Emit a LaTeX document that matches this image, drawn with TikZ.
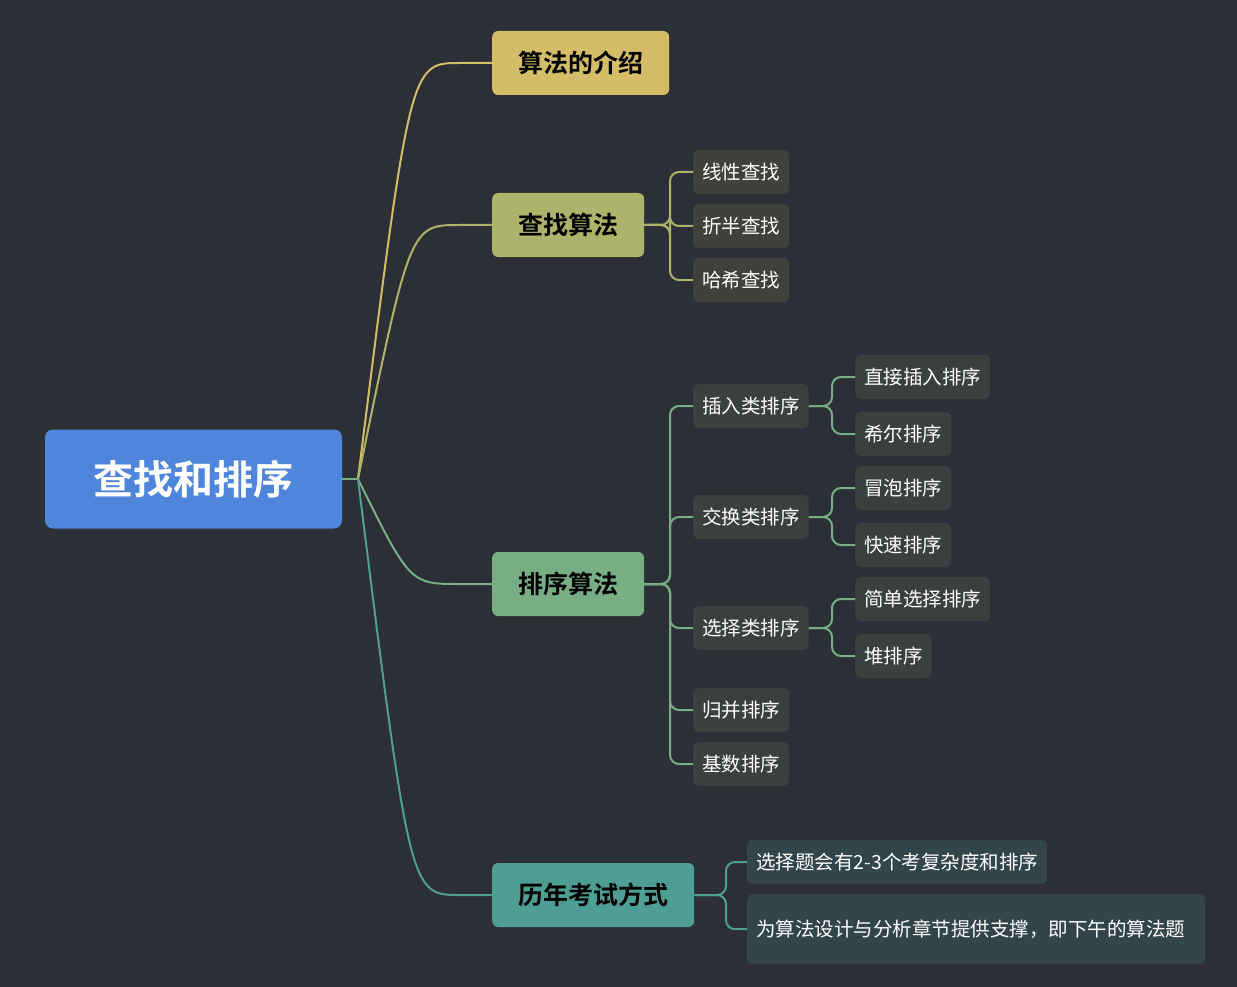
\documentclass[tikz,border=0pt]{standalone}
\usepackage{fontspec}
\setmainfont{Noto Sans CJK SC}
\newfontfamily\cjkb{Noto Sans CJK SC Bold}
\begin{document}
\begin{tikzpicture}[x=1pt,y=-1pt,
 l1/.style={rounded corners=6pt,anchor=west,minimum height=64pt,inner xsep=26pt,text=black,font=\cjkb\fontsize{25}{30}\selectfont},
 l2/.style={rounded corners=6pt,anchor=west,minimum height=44pt,inner xsep=9pt,fill=boxd,text=white,font=\fontsize{19.5}{24}\selectfont},
 cn/.style={line width=2pt,rounded corners=9pt}]
\definecolor{bg}{HTML}{2C2F36}
\definecolor{rootc}{HTML}{4F86DB}
\definecolor{c1}{HTML}{D4BC68}
\definecolor{c2}{HTML}{ADB36A}
\definecolor{c3}{HTML}{78AE84}
\definecolor{c4}{HTML}{4F9E94}
\definecolor{boxd}{HTML}{3B403E}
\definecolor{boxs}{HTML}{3E423A}
\definecolor{boxt}{HTML}{33454A}
\fill[bg] (0,0) rectangle (1237,987);
\useasboundingbox (0,0) rectangle (1237,987);
\node[fill=rootc,rounded corners=8pt,minimum width=297pt,minimum height=99pt,text=white,font=\cjkb\fontsize{40}{48}\selectfont] (root) at (193.5,479) {查找和排序};
\coordinate (r) at (358,479);
\node[l1,fill=c1] (a) at (492,63) {算法的介绍};
\node[l1,fill=c2] (b) at (492,225) {查找算法};
\node[l1,fill=c3] (c) at (492,584) {排序算法};
\node[l1,fill=c4] (d) at (492,895) {历年考试方式};
\draw[c3,line width=2pt] (root.east) -- (r);
\draw[c1,line width=2pt] (r) .. controls (410,63) .. (460,63) -- (a.west);
\draw[c2,line width=2pt] (r) .. controls (410,225) .. (460,225) -- (b.west);
\draw[c3,line width=2pt] (r) .. controls (410,584) .. (460,584) -- (c.west);
\draw[c4,line width=2pt] (r) .. controls (410,895) .. (460,895) -- (d.west);
% level 2
\node[l2,fill=boxs] (b1) at (693,172) {线性查找};
\node[l2,fill=boxs] (b2) at (693,226) {折半查找};
\node[l2,fill=boxs] (b3) at (693,280) {哈希查找};
\foreach \n in {b1,b2,b3}{\draw[c2,cn] (b.east) -- (670,225) |- (\n.west);}
\node[l2] (s1) at (693,406) {插入类排序};
\node[l2] (s2) at (693,517) {交换类排序};
\node[l2] (s3) at (693,628) {选择类排序};
\node[l2] (s4) at (693,710) {归并排序};
\node[l2] (s5) at (693,764) {基数排序};
\foreach \n in {s1,s2,s3,s4,s5}{\draw[c3,cn] (c.east) -- (670,584) |- (\n.west);}
\node[l2] (t1) at (855,377) {直接插入排序};
\node[l2] (t2) at (855,434) {希尔排序};
\node[l2] (t3) at (855,488) {冒泡排序};
\node[l2] (t4) at (855,545) {快速排序};
\node[l2] (t5) at (855,599) {简单选择排序};
\node[l2] (t6) at (855,656) {堆排序};
\foreach \p/\n/\y in {s1/t1/406,s1/t2/406,s2/t3/517,s2/t4/517,s3/t5/628,s3/t6/628}{\draw[c3,cn] (\p.east) -- (832,\y) |- (\n.west);}
\node[l2,fill=boxt] (d1) at (747,862) {选择题会有2-3个考复杂度和排序};
\node[l2,fill=boxt,anchor=north west,text width=440pt,align=left,minimum height=70pt,inner ysep=6pt,font=\fontsize{19.5}{27}\selectfont] (d2) at (747,894) {为算法设计与分析章节提供支撑，即下午的算法题};
\draw[c4,cn] (d.east) -- (726,895) |- (d1.west);
\draw[c4,cn] (d.east) -- (726,895) |- (d2.west);
\end{tikzpicture}
\end{document}
